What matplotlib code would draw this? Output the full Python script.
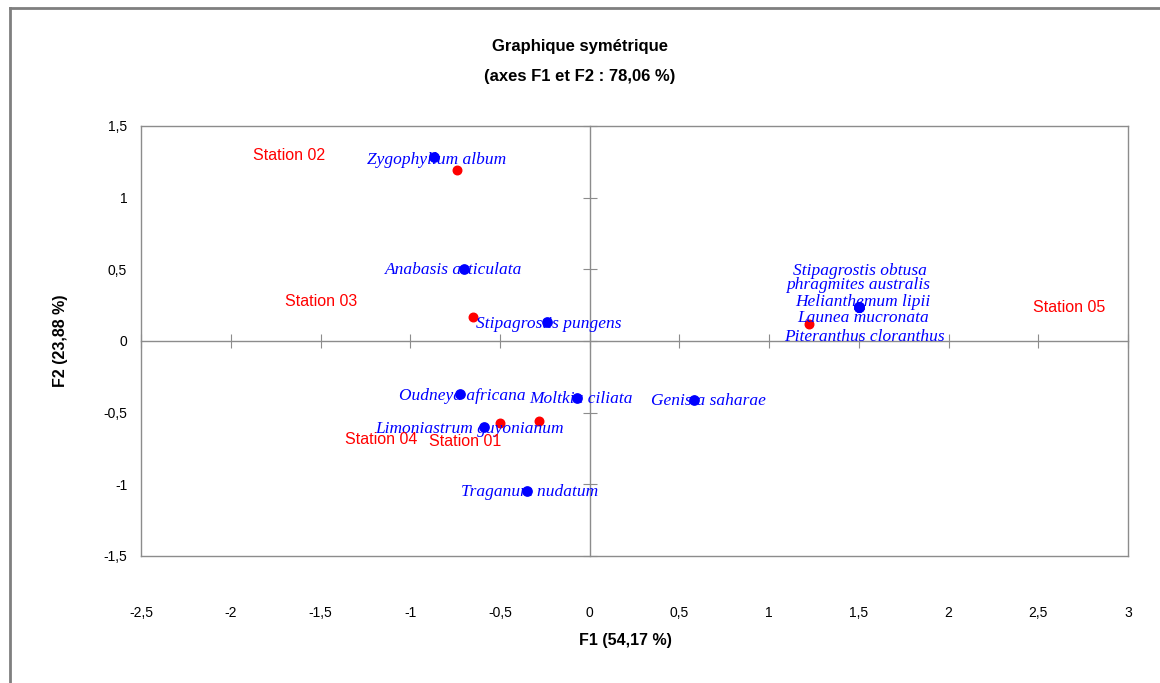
import matplotlib
matplotlib.use("Agg")
import matplotlib.pyplot as plt
from matplotlib.lines import Line2D
from matplotlib.ticker import FuncFormatter, MultipleLocator

# CA coordinates on the first two factors
stations = ["Station 01", "Station 02", "Station 03", "Station 04", "Station 05"]
station_f1 = [-0.28, -0.74, -0.65, -0.50, 1.22]
station_f2 = [-0.56, 1.19, 0.17, -0.57, 0.12]

species = ["Zygophyllum album", "Anabasis articulata", "Stipagrostis pungens",
           "Oudneya africana", "Moltkia ciliata", "Genista saharae",
           "Limoniastrum guyonianum", "Traganum nudatum",
           "Stipagrostis obtusa", "phragmites australis", "Helianthemum lipii",
           "Launea mucronata", "Piteranthus cloranthus"]
species_f1 = [-0.87, -0.70, -0.24, -0.72, -0.07, 0.58, -0.59, -0.35,
              1.50, 1.50, 1.50, 1.50, 1.50]
species_f2 = [1.28, 0.50, 0.13, -0.37, -0.40, -0.41, -0.60, -1.05,
              0.24, 0.24, 0.24, 0.24, 0.24]

# label offsets from each point, in pixels
station_off = [(-74, -20), (-168, 15), (-152, 15), (-119, -17), (260, 16)]
species_off = [(3, -3), (-10, -1), (2, -2), (2, -2), (4, -1), (15, -1),
               (-14, -2), (3, -1), (1, 36), (-1, 22), (4, 5), (4, -11), (6, -30)]

sans = ["Liberation Sans", "DejaVu Sans"]
serif = ["Liberation Serif", "DejaVu Serif"]
grey = "#8c8c8c"

fig = plt.figure(figsize=(11.6, 6.83), dpi=100)
ax = fig.add_axes([0.1216, 0.186, 0.8509, 0.6296])
ax.set_xlim(-2.5, 3)
ax.set_ylim(-1.5, 1.5)
ax.xaxis.set_major_locator(MultipleLocator(0.5))
ax.yaxis.set_major_locator(MultipleLocator(0.5))
comma = FuncFormatter(lambda v, p: ("%g" % v).replace(".", ","))
ax.xaxis.set_major_formatter(comma)
ax.yaxis.set_major_formatter(comma)
ax.tick_params(length=0, labelsize=10, colors="black")
ax.tick_params(axis="x", pad=36)
ax.tick_params(axis="y", pad=10)
for lab in ax.get_xticklabels() + ax.get_yticklabels():
    lab.set_family(sans)
for s in ax.spines.values():
    s.set_color(grey)
    s.set_linewidth(1.0)

# zero lines with cross ticks
ax0 = fig.add_axes(ax.get_position(), sharex=ax, sharey=ax)
ax0.patch.set_visible(False)
for side in ["top", "right"]:
    ax0.spines[side].set_visible(False)
for side in ["left", "bottom"]:
    ax0.spines[side].set_position(("data", 0))
    ax0.spines[side].set_color(grey)
    ax0.spines[side].set_linewidth(1.0)
ax0.tick_params(direction="inout", length=10, color=grey, labelleft=False,
                labelbottom=False)

ax0.scatter(species_f1, species_f2, s=45, color="#0000ff", zorder=3)
ax0.scatter(station_f1, station_f2, s=38, color="#ff0000", zorder=4)

for name, x, y, off in zip(species, species_f1, species_f2, species_off):
    ax0.annotate(name, (x, y), xytext=off, textcoords="offset pixels",
                 ha="center", va="center", color="#0000ff", style="italic",
                 family=serif, fontsize=12.5, zorder=5)
for name, x, y, off in zip(stations, station_f1, station_f2, station_off):
    ax0.annotate(name, (x, y), xytext=off, textcoords="offset pixels",
                 ha="center", va="center", color="#ff0000", family=sans,
                 fontsize=11.5, zorder=5)

fig.text(0.5, 1 - 47 / 683, "Graphique symétrique", ha="center", va="center",
         fontsize=12, fontweight="bold", family=sans)
fig.text(0.5, 1 - 77 / 683, "(axes F1 et F2 : 78,06 %)", ha="center",
         va="center", fontsize=12, fontweight="bold", family=sans)
fig.text(625 / 1160, 1 - 641 / 683, "F1 (54,17 %)", ha="center", va="center",
         fontsize=11.5, fontweight="bold", family=sans)
fig.text(60 / 1160, 1 - 341 / 683, "F2 (23,88 %)", ha="center", va="center",
         rotation=90, fontsize=11.5, fontweight="bold", family=sans)

# outer chart frame
fig.add_artist(Line2D([10 / 1160, 10 / 1160], [0, 1 - 8 / 683],
                      transform=fig.transFigure, color="#7f7f7f", lw=2))
fig.add_artist(Line2D([10 / 1160, 1], [1 - 8 / 683, 1 - 8 / 683],
                      transform=fig.transFigure, color="#7f7f7f", lw=2))

fig.savefig("out.png", dpi=100)
